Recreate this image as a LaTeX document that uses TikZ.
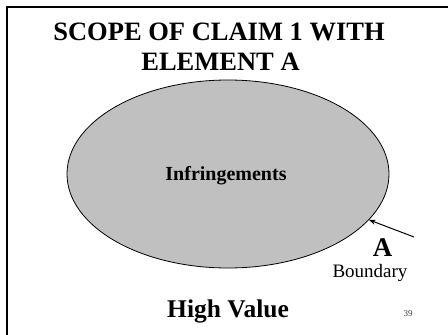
\documentclass[tikz,border=0pt]{standalone}
\usepackage{fontspec}
\setmainfont{Liberation Serif}
\usetikzlibrary{shapes.geometric,arrows.meta}
\definecolor{ellgray}{HTML}{C0C0C0}
\begin{document}
\begin{tikzpicture}[x=1pt,y=-1pt,
  every node/.style={inner sep=0pt,outer sep=0pt},
  titletext/.style={anchor=base,font=\fontsize{26.5}{31}\selectfont\bfseries},
  frameline/.style={line width=2.5pt},
  region/.style={ellipse,draw,fill=ellgray,line width=0.8pt,minimum width=322pt,minimum height=188pt}]
\useasboundingbox (0,0) rectangle (448,335);
\draw[frameline] (7,335) -- (7,7) -- (448,7);
\node[titletext] (t1) at (219,40) {SCOPE OF CLAIM 1 WITH};
\node[titletext] (t2) at (220.5,70.5) {ELEMENT A};
\node[region] (ell) at (228,174) {};
\node[anchor=base,font=\fontsize{20}{24}\selectfont\bfseries] (inf) at (226,180) {Infringements};
\coordinate (tail) at (414,237);
\draw[-{Stealth[length=7pt,width=5pt]},line width=1pt] (tail) -- (ell.-18.7);
\node[anchor=base,font=\fontsize{27}{31}\selectfont\bfseries] (a) at (382.5,256) {A};
\node[anchor=base,font=\fontsize{19}{22}\selectfont] (bnd) at (370,277.5) {Boundary};
\node[anchor=base,font=\fontsize{25.5}{30}\selectfont\bfseries] (hv) at (228,317) {High Value};
\node[anchor=base,font=\fontsize{9}{11}\selectfont,text=black!75] (pg) at (408,316) {39};
\end{tikzpicture}
\end{document}
